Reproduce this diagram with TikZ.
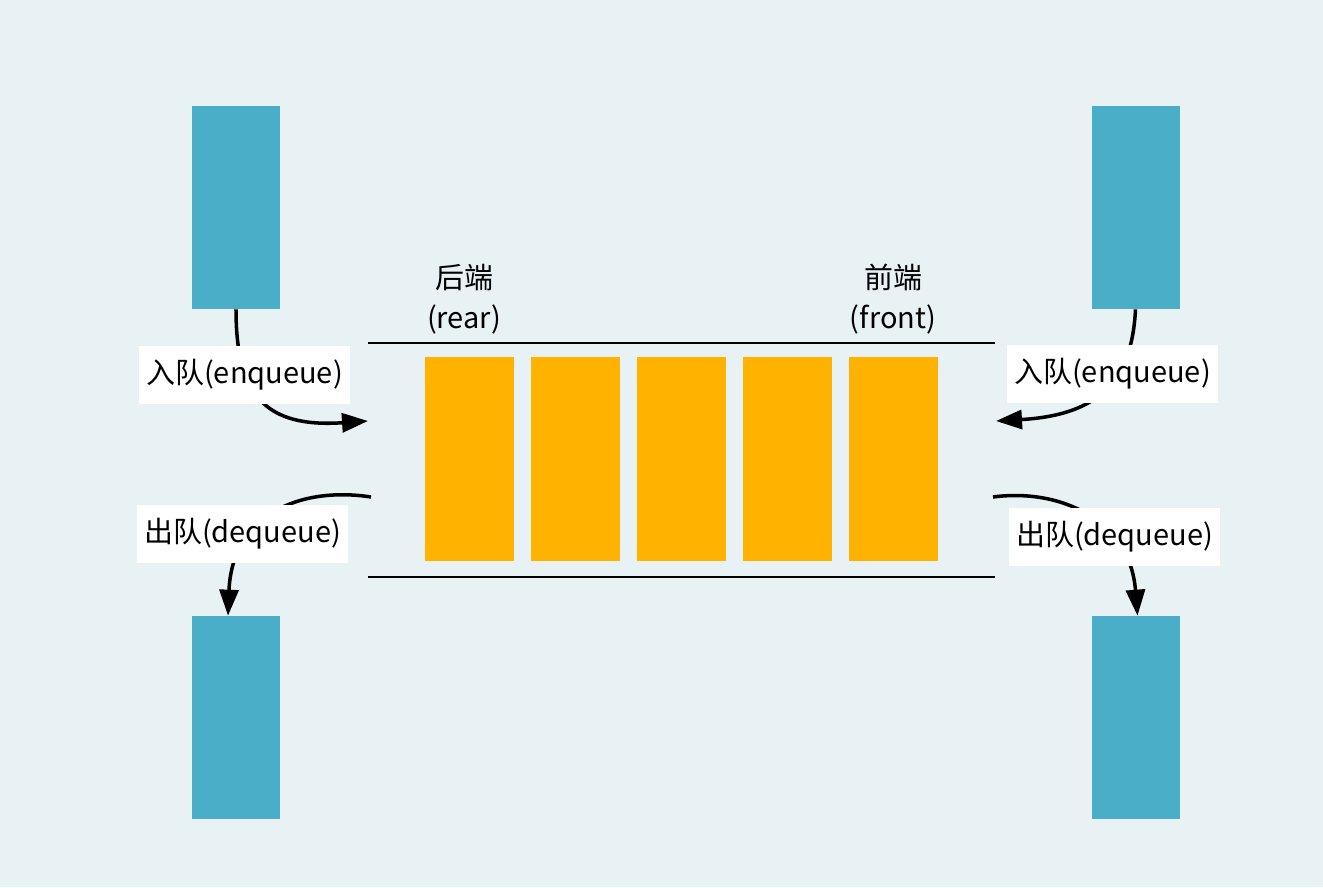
\documentclass[tikz,border=0pt]{standalone}
\usepackage{fontspec}
\setmainfont{Noto Sans CJK SC}
\usetikzlibrary{arrows.meta}
\definecolor{bgcol}{RGB}{232,241,244}
\definecolor{stackblue}{RGB}{75,174,200}
\definecolor{cellorange}{RGB}{255,179,0}
\begin{document}
\begin{tikzpicture}[x = 0.02cm, y = -0.02cm,
		every node/.style = {font = \fontsize{16.5}{23}\selectfont},
		block/.style = {fill = stackblue, inner sep = 0, minimum width = 1.76cm, minimum height = 4.06cm},
		cell/.style = {fill = cellorange, inner sep = 0, minimum width = 1.78cm, minimum height = 4.08cm},
		tag/.style = {fill = white, inner sep = 0, minimum width = 4.22cm, minimum height = 1.16cm},
		flow/.style = {line width = 2pt, -{Triangle[length = 0.52cm, width = 0.38cm]}}]
		\fill[bgcol] (0,0) rectangle (1323,887);
		\useasboundingbox (0,0) rectangle (1323,887);
		% blocks outside the queue
		\node[block] (inL) at (236,207.5) {};
		\node[block] (inR) at (1135.5,207.5) {};
		\node[block] (outL) at (236,717.5) {};
		\node[block] (outR) at (1135.5,717.5) {};
		% queue
		\draw[line width = 1.1pt] (368,343) -- (995,343);
		\draw[line width = 1.1pt] (368,577) -- (995,577);
		\foreach \i in {1,...,5}
			\node[cell] (c\i) at ({469.5 + 106*(\i-1)}, 459) {};
		\node[align = center] (rear) at (464,299) {后端\\(rear)};
		\node[align = center] (front) at (893,299) {前端\\(front)};
		% ends of the arrows at the queue
		\coordinate (rearIn) at (368,421);
		\coordinate (rearOut) at (371,497);
		\coordinate (frontIn) at (996,421);
		\coordinate (frontOut) at (993,497);
		\draw[flow] (inL.south) .. controls (236,395) and (265,428) .. (rearIn);
		\draw[flow] (inR.south) .. controls (1132,380) and (1100,415) .. (frontIn);
		\draw[flow] (rearOut) .. controls (300,486) and (232,515) .. ([xshift = -0.16cm]outL.north);
		\draw[flow] (frontOut) .. controls (1060,488) and (1130,520) .. ([xshift = 0.04cm]outR.north);
		% labels
		\node[tag] (enqL) at (244.5,375) {入队(enqueue)};
		\node[tag] (deqL) at (242.5,533.5) {出队(dequeue)};
		\node[tag] (enqR) at (1112.5,374) {入队(enqueue)};
		\node[tag] (deqR) at (1114.5,537) {出队(dequeue)};
	\end{tikzpicture}
\end{document}
